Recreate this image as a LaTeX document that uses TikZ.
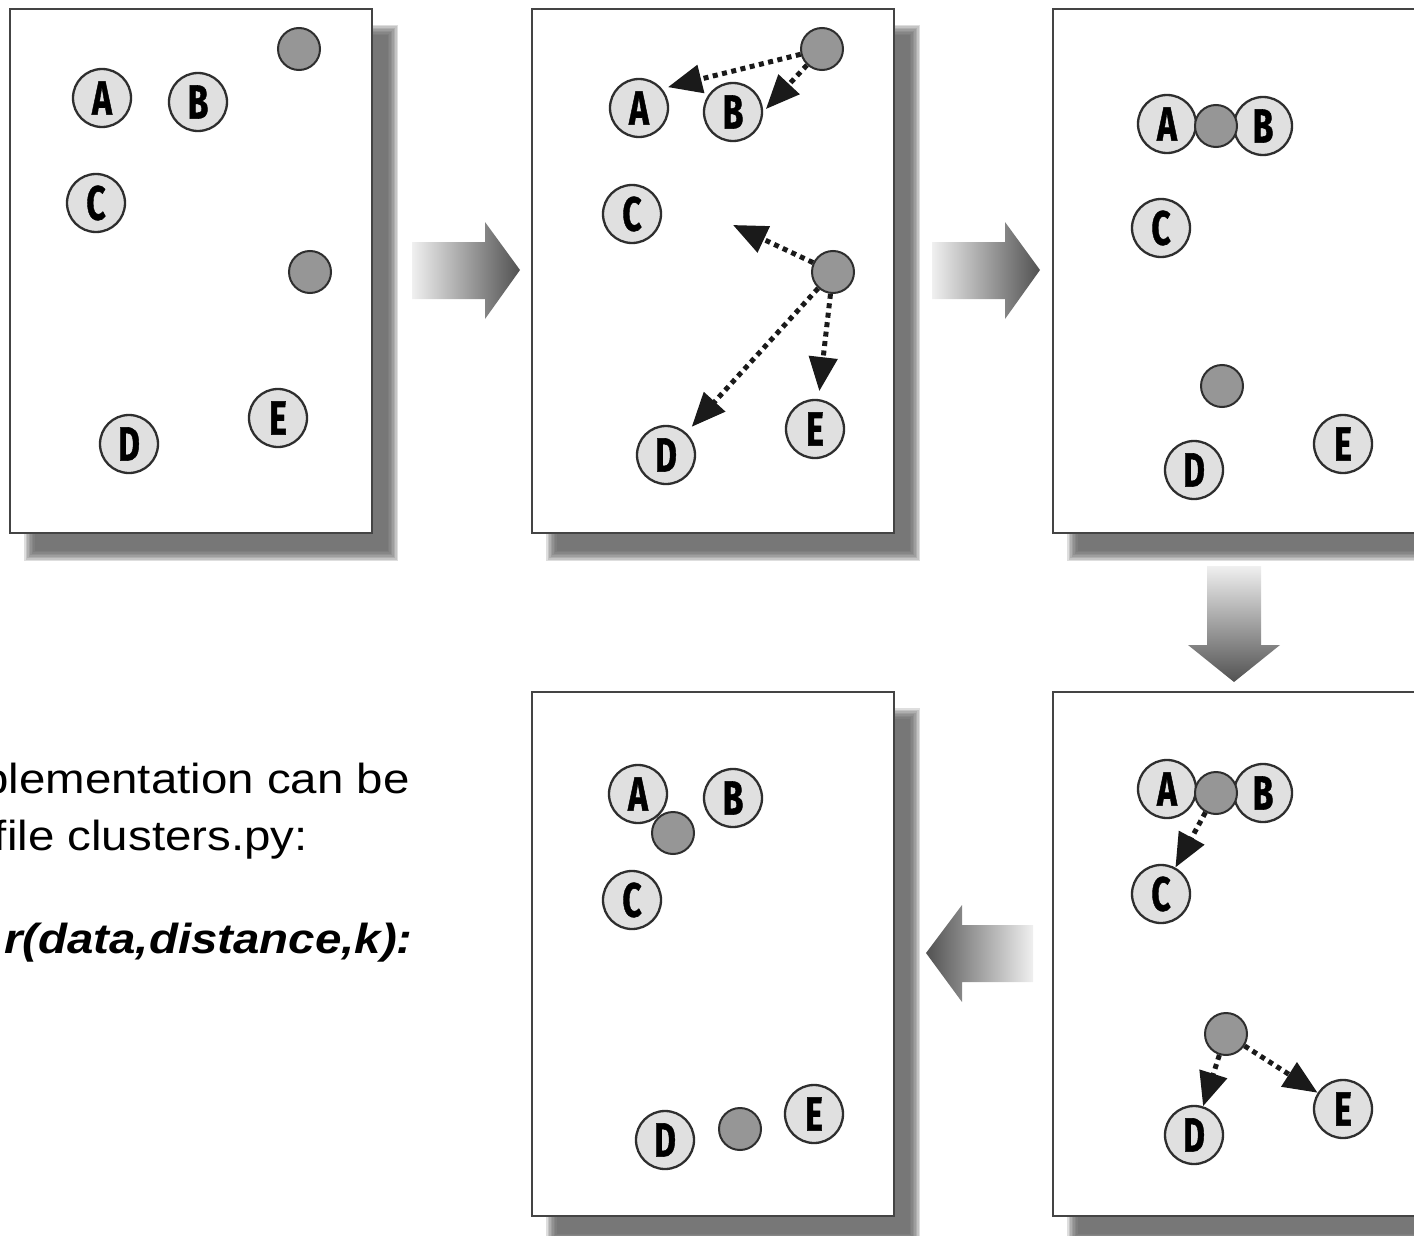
\documentclass[tikz,border=0pt]{standalone}
\usepackage{fontspec}
\usetikzlibrary{arrows.meta}

\newfontfamily\labelfont{Fira Sans}[BoldFeatures={FakeBold=1.2}]
\newfontfamily\bodyfont{Liberation Sans}

\definecolor{pointfill}{HTML}{E0E0E0}
\definecolor{centroidfill}{HTML}{969696}
\definecolor{ringcol}{HTML}{2E2E2E}
\definecolor{framecol}{HTML}{444444}
\definecolor{shadowcol}{HTML}{5C5C5C}
\definecolor{dotcol}{HTML}{1A1A1A}

% condensed letters inside the data points, widened prose
\newcommand\letter[1]{\scalebox{0.7}[1]{#1}}
\newcommand\widen[1]{\scalebox{1.13}[1]{#1}}

\tikzset{
  point/.style={circle, draw=ringcol, line width=2.3pt, fill=pointfill,
    minimum size=58pt, inner sep=0pt,
    font=\labelfont\bfseries\fontsize{48}{48}\selectfont},
  centroid/.style={circle, draw=ringcol, line width=2pt, fill=centroidfill,
    minimum size=42pt, inner sep=0pt},
  move/.style={draw=dotcol, line width=5pt, dash pattern=on 5pt off 4.5pt,
    -{Triangle[length=34pt,width=28pt]}},
  frame/.style={draw=framecol, line width=2.6pt, fill=white},
  prose/.style={inner sep=0pt, anchor=base east, text=black,
    font=\bodyfont\fontsize{42}{50}\selectfont},
}

% panel with a soft drop shadow: #1,#2 top-left corner, #3,#4 bottom-right corner
\newcommand\panel[4]{%
  \foreach \i in {0,...,7}{%
    \fill[shadowcol, opacity=0.2]
      ({#1+14+1.5*\i},{#2+16+1.5*\i}) rectangle ({#3+26-1.5*\i},{#4+28-1.5*\i});
  }%
  \path[frame] (#1,#2) rectangle (#3,#4);
}

\begin{document}
\begin{tikzpicture}[x=1pt, y=-1pt]
\useasboundingbox (0,0) rectangle (1414,1236);
\clip (0,0) rectangle (1414,1236);

% ---- panels ----
\panel{10}{9}{372}{533}
\panel{532}{9}{894}{533}
\panel{1053}{9}{1416}{533}
\panel{532}{692}{894}{1216}
\panel{1053}{692}{1416}{1216}

% ---- step arrows between panels ----
\shade[left color=black!6, right color=black!68]
  (412,242) -- (485,242) -- (485,222) -- (520,270) -- (485,319) -- (485,299) -- (412,299) -- cycle;
\shade[left color=black!6, right color=black!68]
  (932,242) -- (1005,242) -- (1005,222) -- (1040,270) -- (1005,319) -- (1005,299) -- (932,299) -- cycle;
\shade[top color=black!6, bottom color=black!68]
  (1207,566) -- (1261,566) -- (1261,645) -- (1280,645) -- (1234,682) -- (1188,645) -- (1207,645) -- cycle;
\shade[left color=black!68, right color=black!6]
  (1033,925) -- (962,925) -- (962,905) -- (926,953) -- (962,1002) -- (962,982) -- (1033,982) -- cycle;

% ---- text on the left ----
\node[prose] (line1) at (410,793) {\widen{plementation can be}};
\node[prose] (line2) at (308,850) {\widen{file clusters.py:}};
\node[prose, font=\bodyfont\bfseries\itshape\fontsize{42}{50}\selectfont]
  (line3) at (413,953) {\widen{r(data,distance,k):}};

% ---- panel 1: random centroids ----
\node[point] (p1A) at (102,98) {\letter{A}};
\node[point] (p1B) at (198,102) {\letter{B}};
\node[point] (p1C) at (96,203) {\letter{C}};
\node[point] (p1D) at (129,444) {\letter{D}};
\node[point] (p1E) at (278,418) {\letter{E}};
\node[centroid] (p1g1) at (299,49) {};
\node[centroid] (p1g2) at (310,272) {};

% ---- panel 2: assign items to nearest centroid ----
\node[point] (p2A) at (639,108) {\letter{A}};
\node[point] (p2B) at (733,112) {\letter{B}};
\node[point] (p2C) at (632,214) {\letter{C}};
\node[point] (p2D) at (666,455) {\letter{D}};
\node[point] (p2E) at (815,429) {\letter{E}};
\node[centroid] (p2g1) at (822,49) {};
\node[centroid] (p2g2) at (833,272) {};
\coordinate (p2free) at (733,225);
\draw[move, shorten >=6pt] (p2g1) -- (p2A.40);
\draw[move, shorten >=4pt] (p2g1) -- (p2B.east);
\draw[move] (p2g2) -- (p2free);
\draw[move, shorten >=8pt] (p2g2) -- (p2D);
\draw[move, shorten >=8pt] (p2g2) -- (p2E);

% ---- panel 3: centroids moved to cluster means ----
\node[point] (p3A) at (1167,124) {\letter{A}};
\node[point] (p3B) at (1263,126) {\letter{B}};
\node[point] (p3C) at (1161,228) {\letter{C}};
\node[point] (p3D) at (1194,470) {\letter{D}};
\node[point] (p3E) at (1343,444) {\letter{E}};
\node[centroid] (p3g1) at (1216,126) {};
\node[centroid] (p3g2) at (1222,386) {};

% ---- panel 5: reassign items ----
\node[point] (p5A) at (1167,789) {\letter{A}};
\node[point] (p5B) at (1263,793) {\letter{B}};
\node[point] (p5C) at (1161,894) {\letter{C}};
\node[point] (p5D) at (1194,1135) {\letter{D}};
\node[point] (p5E) at (1343,1109) {\letter{E}};
\node[centroid] (p5g1) at (1216,793) {};
\node[centroid] (p5g2) at (1226,1034) {};
\draw[move] (p5g1) -- (p5C);
\draw[move] (p5g2) -- (p5D);
\draw[move] (p5g2) -- (p5E);

% ---- panel 4: final clusters ----
\node[point] (p4A) at (638,794) {\letter{A}};
\node[point] (p4B) at (733,798) {\letter{B}};
\node[point] (p4C) at (632,900) {\letter{C}};
\node[point] (p4D) at (665,1140) {\letter{D}};
\node[point] (p4E) at (814,1114) {\letter{E}};
\node[centroid] (p4g1) at (673,833) {};
\node[centroid] (p4g2) at (740,1129) {};
\end{tikzpicture}
\end{document}
